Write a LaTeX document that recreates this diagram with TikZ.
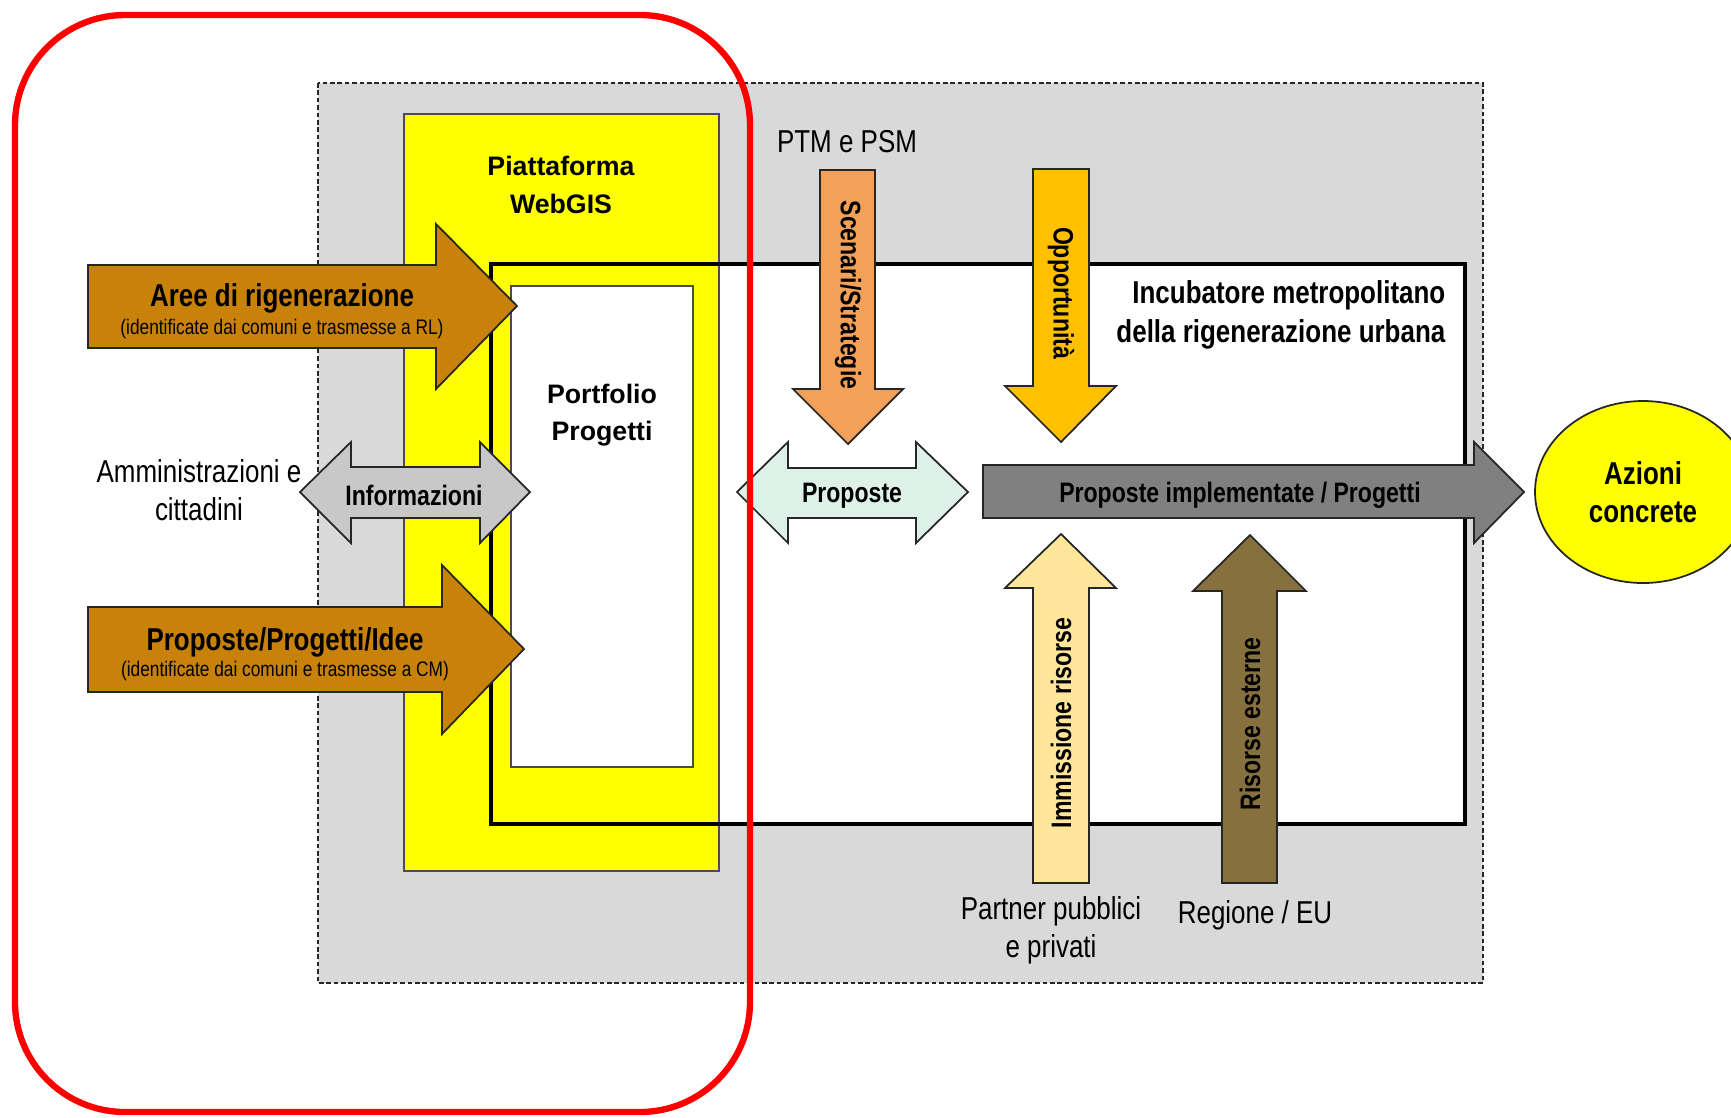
\documentclass[tikz,border=0pt]{standalone}
\usepackage{fontspec}
\setmainfont{Liberation Sans}[FakeStretch=0.82]
\newfontfamily\widesans{Liberation Sans}
\definecolor{bggray}{RGB}{217,217,217}
\definecolor{brownarr}{RGB}{200,130,10}
\definecolor{infogray}{RGB}{200,200,200}
\definecolor{scenorange}{RGB}{243,160,88}
\definecolor{oppgold}{RGB}{255,192,0}
\definecolor{propmint}{RGB}{222,241,232}
\definecolor{implgray}{RGB}{128,128,128}
\definecolor{immyellow}{RGB}{255,230,153}
\definecolor{extbrown}{RGB}{134,112,62}
\definecolor{pureyellow}{RGB}{255,255,0}
\begin{document}
\begin{tikzpicture}[
		x=0.01cm, y=-0.01cm,
		blockarrow/.style={draw=black!85, line width=0.5pt},
		txt/.style={inner sep=0pt, align=center, yshift=-0.9pt, font=\fontsize{9}{10.9}\selectfont},
		boldtxt/.style={inner sep=0pt, align=center, yshift=-0.9pt, font=\fontsize{9}{10.9}\selectfont\bfseries},
		arrtxt/.style={inner sep=0pt, yshift=-1pt, font=\fontsize{8}{10}\selectfont\bfseries},
		rottxt/.style={inner sep=0pt, font=\fontsize{8}{10}\selectfont\bfseries},
		subtxt/.style={inner sep=0pt, yshift=-0.7pt, font=\fontsize{6}{7}\selectfont},
		widetxt/.style={inner sep=0pt, align=center, font=\fontsize{7.6}{10.6}\selectfont\widesans\bfseries}
	]
	\useasboundingbox (0,0) rectangle (1731,1117);
	% frames
	\draw[fill=bggray, draw=black!85, line width=0.5pt, dash pattern=on 1.3pt off 0.8pt] (318,83) rectangle (1483,983);
	\fill[white] (491,264) rectangle (1465,824);
	\draw[fill=pureyellow, draw=black!70, line width=0.5pt] (404,114) rectangle (719,871);
	\draw[line width=1.2pt] (491,264) rectangle (1465,824);
	\draw[fill=white, draw=black!70, line width=0.5pt] (511,286) rectangle (693,767);
	\node[widetxt] (webgis) at (561,185) {Piattaforma\\WebGIS};
	\node[widetxt] (portfolio) at (602,415) {Portfolio\\Progetti};
	\node[boldtxt, anchor=east, align=right, font=\fontsize{9}{11.2}\selectfont\bfseries] (incubatore) at (1446,312) {Incubatore metropolitano\\della rigenerazione urbana};
	% horizontal arrows
	\draw[blockarrow, fill=brownarr] (88,265) -- (436,265) -- (436,224) -- (517,306) -- (436,389) -- (436,348) -- (88,348) -- cycle;
	\node[boldtxt] (aree) at (282,295) {Aree di rigenerazione};
	\node[subtxt] (areesub) at (282,327) {(identificate dai comuni e trasmesse a RL)};
	\draw[blockarrow, fill=brownarr] (88,607) -- (442,607) -- (442,565) -- (524,649) -- (442,734) -- (442,692) -- (88,692) -- cycle;
	\node[boldtxt] (idee) at (285,639) {Proposte/Progetti/Idee};
	\node[subtxt] (ideesub) at (285,669) {(identificate dai comuni e trasmesse a CM)};
	\draw[blockarrow, fill=infogray] (300,492) -- (351,442) -- (351,467) -- (480,467) -- (480,442) -- (530,492) -- (480,543) -- (480,518) -- (351,518) -- (351,543) -- cycle;
	\node[arrtxt] (info) at (414,492) {Informazioni};
	\node[txt] (ammin) at (199,487) {Amministrazioni e\\cittadini};
	\draw[blockarrow, fill=propmint] (737,492) -- (788,442) -- (788,468) -- (916,468) -- (916,442) -- (968,492) -- (916,543) -- (916,518) -- (788,518) -- (788,543) -- cycle;
	\node[arrtxt] (proposte) at (852,492) {Proposte};
	\draw[blockarrow, fill=implgray] (983,465) -- (1474,465) -- (1474,442) -- (1524,492) -- (1474,543) -- (1474,518) -- (983,518) -- cycle;
	\node[arrtxt] (implementate) at (1240,492) {Proposte implementate / Progetti};
	% vertical arrows
	\node[txt] (ptm) at (847,138) {PTM e PSM};
	\draw[blockarrow, fill=scenorange] (820,170) -- (875,170) -- (875,389) -- (903,389) -- (848,444) -- (793,389) -- (820,389) -- cycle;
	\node[rottxt, rotate=-90] (scenari) at (848,295) {Scenari/Strategie};
	\draw[blockarrow, fill=oppgold] (1033,169) -- (1089,169) -- (1089,386) -- (1116,386) -- (1061,442) -- (1005,386) -- (1033,386) -- cycle;
	\node[rottxt, rotate=-90] (opport) at (1061,293) {Opportunità};
	\draw[blockarrow, fill=immyellow] (1033,883) -- (1089,883) -- (1089,588) -- (1116,588) -- (1061,534) -- (1005,588) -- (1033,588) -- cycle;
	\node[rottxt, rotate=90] (immissione) at (1061,723) {Immissione risorse};
	\draw[blockarrow, fill=extbrown] (1222,883) -- (1277,883) -- (1277,591) -- (1306,591) -- (1250,535) -- (1193,591) -- (1222,591) -- cycle;
	\node[rottxt, rotate=90] (esterne) at (1250,724) {Risorse esterne};
	\node[txt] (partner) at (1051,927) {Partner pubblici\\e privati};
	\node[txt] (regione) at (1255,912) {Regione / EU};
	% result
	\draw[fill=pureyellow, draw=black!85, line width=0.5pt] (1643,492) ellipse [x radius=108, y radius=91];
	\node[boldtxt] (azioni) at (1643,489) {Azioni\\concrete};
	% highlight
	\draw[red, line width=1.8pt, rounded corners=1.1cm] (15,15) rectangle (750,1112);
\end{tikzpicture}
\end{document}
